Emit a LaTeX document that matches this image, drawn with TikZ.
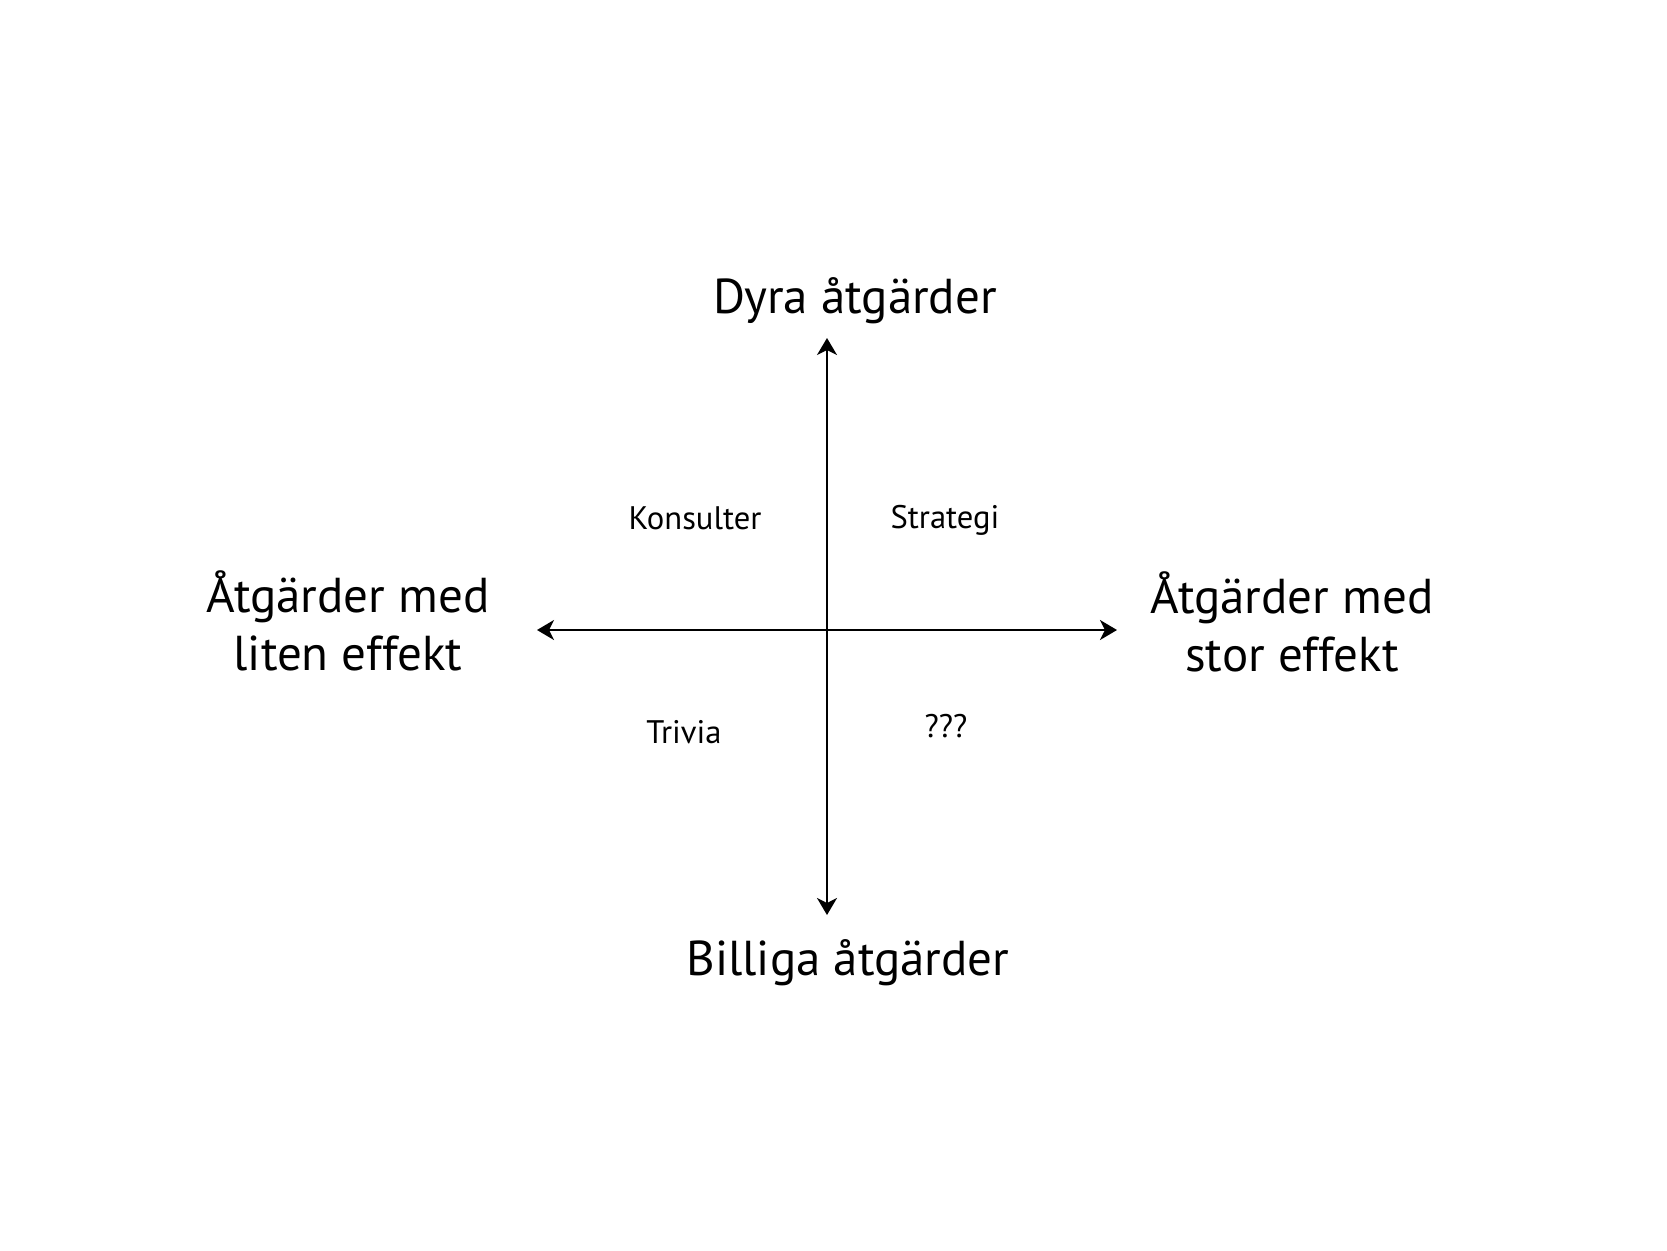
\documentclass[tikz,border=0pt]{standalone}
\usepackage{fontspec}
\setmainfont{PT Sans}
\usetikzlibrary{arrows.meta}
\tikzset{
  axis/.style={line width=1pt, {Stealth[length=8.5pt,width=10pt,inset=2.5pt]}-{Stealth[length=8.5pt,width=10pt,inset=2.5pt]}},
  biglabel/.style={inner sep=0pt, anchor=base, align=center, font=\fontsize{24.5}{29}\selectfont},
  smalllabel/.style={inner sep=0pt, anchor=base, font=\fontsize{16.3}{19}\selectfont}
}
\begin{document}
\begin{tikzpicture}[x=0.5pt,y=-0.5pt]
\path[use as bounding box, fill=white] (0,0) rectangle (1667,1250);
\coordinate (top) at (827,338);
\coordinate (bot) at (827,915);
\coordinate (lft) at (537,630);
\coordinate (rgt) at (1117,630);
\draw[axis] (bot) -- (top);
\draw[axis] (lft) -- (rgt);
\node[biglabel] (dyra) at (855,313) {Dyra åtgärder};
\node[biglabel] (billiga) at (848,975) {Billiga åtgärder};
\node[biglabel] (liten) at (348,670) {Åtgärder med\\liten effekt};
\node[biglabel] (stor) at (1292,671) {Åtgärder med\\stor effekt};
\node[smalllabel] (kons) at (695,529) {Konsulter};
\node[smalllabel] (strat) at (945,528) {Strategi};
\node[smalllabel] (triv) at (684,743) {Trivia};
\node[smalllabel] (qqq) at (946,737) {???};
\end{tikzpicture}
\end{document}
